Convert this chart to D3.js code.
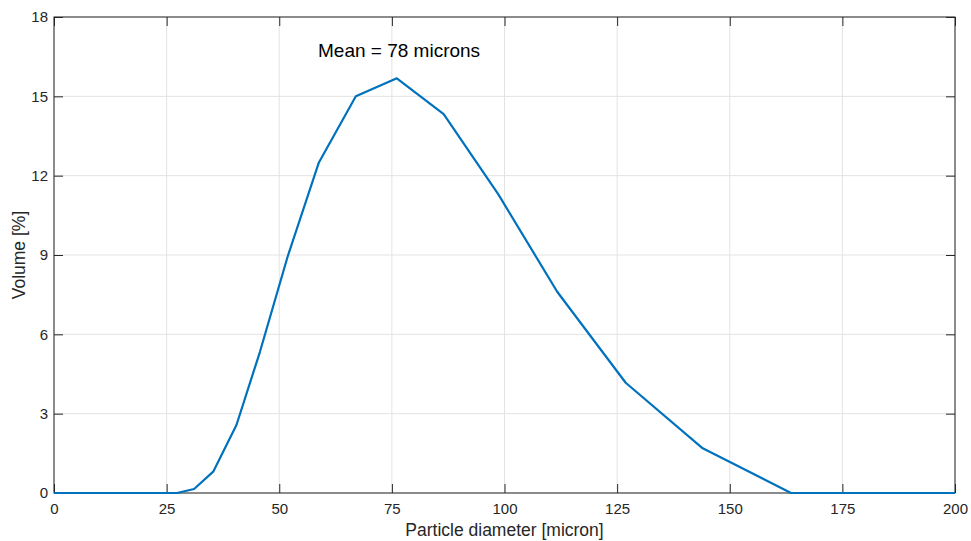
<!DOCTYPE html>
<html>
<head>
<meta charset="utf-8">
<script src="https://cdn.jsdelivr.net/npm/d3@7"></script>
<style>
  body { margin: 0; background: #fff; }
  svg text { font-family: "Liberation Sans", Arial, sans-serif; fill: #262626; }
</style>
</head>
<body>
<div class="chart"></div>
<script>
// Data
var diameter = [0, 27.3, 31.1, 35.4, 40.5, 45.7, 51.9, 58.8, 67.0, 76.1, 86.5, 98.6, 111.7, 126.9, 144.0, 163.6, 200];
var volume   = [0, 0, 0.15, 0.82, 2.57, 5.33, 8.96, 12.5, 15.0, 15.68, 14.33, 11.3, 7.61, 4.17, 1.69, 0, 0];
var xTicks = [0, 25, 50, 75, 100, 125, 150, 175, 200];
var yTicks = [0, 3, 6, 9, 12, 15, 18];

var width = 971, height = 541;
var margin = {left: 54, right: 16, top: 17, bottom: 48};

var svg = d3.select(".chart")
  .append("svg")
  .attr("width", width)
  .attr("height", height);

var x = d3.scaleLinear().domain([0, 200]).range([margin.left, width - margin.right]);
var y = d3.scaleLinear().domain([0, 18]).range([height - margin.bottom, margin.top]);

var x0 = x.range()[0], x1 = x.range()[1];
var y0 = y.range()[0], y1 = y.range()[1];

// grid
svg.append("g")
  .selectAll("line.vx")
  .data(xTicks)
  .enter().append("line")
    .attr("x1", function(d){ return x(d) }).attr("x2", function(d){ return x(d) })
    .attr("y1", y1).attr("y2", y0)
    .style("stroke", "#e3e3e3");
svg.append("g")
  .selectAll("line.hy")
  .data(yTicks)
  .enter().append("line")
    .attr("x1", x0).attr("x2", x1)
    .attr("y1", function(d){ return y(d) }).attr("y2", function(d){ return y(d) })
    .style("stroke", "#e3e3e3");

// axes (ticks inside, on all four sides)
var tl = 9;
svg.append("g")
  .attr("transform", "translate(0," + y0 + ")")
  .call(d3.axisBottom(x).tickValues(xTicks).tickSizeInner(-tl).tickSizeOuter(0).tickPadding(10))
  .call(function(g){ g.select(".domain").remove() });
svg.append("g")
  .attr("transform", "translate(0," + y1 + ")")
  .call(d3.axisTop(x).tickValues(xTicks).tickSizeInner(-tl).tickSizeOuter(0).tickFormat(""))
  .call(function(g){ g.select(".domain").remove() });
svg.append("g")
  .attr("transform", "translate(" + x0 + ",0)")
  .call(d3.axisLeft(y).tickValues(yTicks).tickSizeInner(-tl).tickSizeOuter(0).tickPadding(6))
  .call(function(g){ g.select(".domain").remove() });
svg.append("g")
  .attr("transform", "translate(" + x1 + ",0)")
  .call(d3.axisRight(y).tickValues(yTicks).tickSizeInner(-tl).tickSizeOuter(0).tickFormat(""))
  .call(function(g){ g.select(".domain").remove() });

svg.selectAll(".tick line").style("stroke", "#262626");
svg.selectAll(".tick text").style("font-size", "15px").style("fill", "#262626");

// box
svg.append("rect")
  .attr("x", x0).attr("y", y1)
  .attr("width", x1 - x0).attr("height", y0 - y1)
  .style("fill", "none")
  .style("stroke", "#262626");

// curve
var line = d3.line()
  .x(function(d, i){ return x(diameter[i]) })
  .y(function(d){ return y(d) });
svg.append("path")
  .datum(volume)
  .attr("d", line)
  .style("fill", "none")
  .style("stroke", "#0072BD")
  .style("stroke-width", 2.2)
  .style("stroke-linejoin", "round");

// labels
svg.append("text")
  .attr("x", (x0 + x1) / 2).attr("y", 536)
  .attr("text-anchor", "middle")
  .style("font-size", "17.5px")
  .text("Particle diameter [micron]");
svg.append("text")
  .attr("transform", "translate(25," + ((y0 + y1) / 2) + ") rotate(-90)")
  .attr("text-anchor", "middle")
  .style("font-size", "17.5px")
  .text("Volume [%]");
svg.append("text")
  .attr("x", x(58.6)).attr("y", y(16.5))
  .style("font-size", "19px")
  .style("fill", "#000")
  .text("Mean = 78 microns");
</script>
</body>
</html>
